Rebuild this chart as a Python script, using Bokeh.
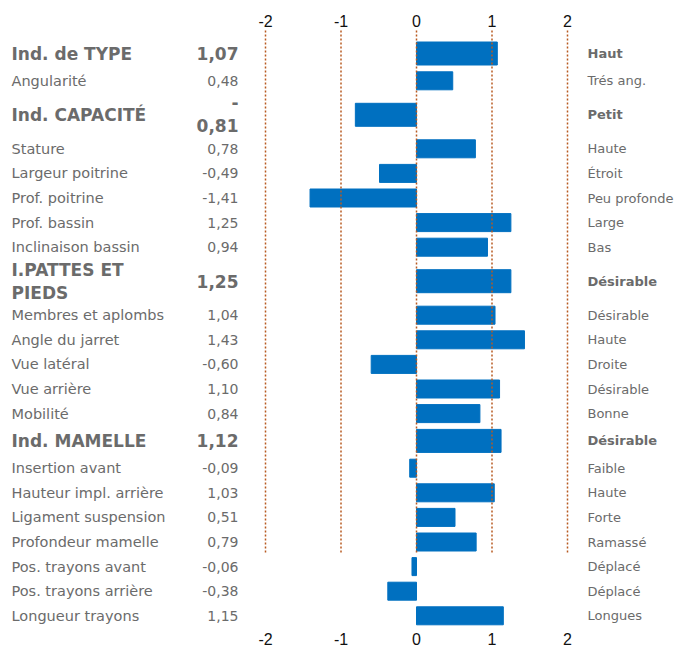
import textwrap
from bokeh.plotting import figure
from bokeh.models import Range1d, ColumnDataSource
from bokeh.core.properties import value
from bokeh.embed import file_html
from bokeh.resources import INLINE

# ---- data ----
labels = ["Ind. de TYPE", "Angularité", "Ind. CAPACITÉ", "Stature", "Largeur poitrine",
          "Prof. poitrine", "Prof. bassin", "Inclinaison bassin", "I.PATTES ET PIEDS",
          "Membres et aplombs", "Angle du jarret", "Vue latéral", "Vue arrière", "Mobilité",
          "Ind. MAMELLE", "Insertion avant", "Hauteur impl. arrière", "Ligament suspension",
          "Profondeur mamelle", "Pos. trayons avant", "Pos. trayons arrière", "Longueur trayons"]
values = [1.07, 0.48, -0.81, 0.78, -0.49, -1.41, 1.25, 0.94, 1.25, 1.04, 1.43, -0.60,
          1.10, 0.84, 1.12, -0.09, 1.03, 0.51, 0.79, -0.06, -0.38, 1.15]
right_labels = ["Haut", "Trés ang.", "Petit", "Haute", "Étroit", "Peu profonde", "Large", "Bas",
                "Désirable", "Désirable", "Haute", "Droite", "Désirable", "Bonne", "Désirable",
                "Faible", "Haute", "Forte", "Ramassé", "Déplacé", "Déplacé", "Longues"]
is_header = [True, False, True, False, False, False, False, False, True, False, False, False,
             False, False, True, False, False, False, False, False, False, False]
ticks = [-2, -1, 0, 1, 2]
tick_labels = ["-2", "-1", "0", "1", "2"]

# ---- layout helpers ----
W, H = 674, 650
PX_PER_UNIT = 75.5
ZERO_PX = 416
x0 = -ZERO_PX / PX_PER_UNIT
x1 = x0 + W / PX_PER_UNIT


def px2x(px):
    return x0 + px / PX_PER_UNIT


def fmt(v):
    return f"{v:.2f}".replace(".", ",")


lab_txt, val_txt, ys, bar_h = [], [], [], []
y = 38.0
for lab, v, hdr in zip(labels, values, is_header):
    if hdr:
        lt = "\n".join(textwrap.wrap(lab, 14))
        vt = ("-\n" + fmt(abs(v))) if v < 0 else fmt(v)
        two = ("\n" in lt) or ("\n" in vt)
        h = 43.4 if two else 30.0
        bh = 23
    else:
        lt, vt, h, bh = lab, fmt(v), 24.6, 18
    ys.append(y + h / 2)
    bar_h.append(bh)
    lab_txt.append(lt)
    val_txt.append(vt)
    y += h

p = figure(width=W, height=H, output_backend="svg", toolbar_location=None,
           x_range=Range1d(x0, x1), y_range=Range1d(H, 0),
           min_border=0, outline_line_color=None)
p.axis.visible = False
p.grid.visible = False

src = ColumnDataSource(dict(y=ys, v=values, h=bar_h, lab=lab_txt, val=val_txt,
                            rlab=right_labels, hdr=is_header))

p.hbar(y="y", left=0, right="v", height="h", source=src, color="#0070C0")

# grid lines (drawn over bars)
p.segment(x0=ticks, x1=ticks, y0=[30] * len(ticks), y1=[553] * len(ticks),
          line_color="#B85A20", line_dash="2 2", line_width=1.5)

# tick labels top and bottom
for ty in (20, 638):
    p.text(x=ticks, y=[ty] * len(ticks), text=tick_labels, text_align="center",
           text_baseline="middle", text_font=value("Liberation Sans"),
           text_font_size="16px", text_color="#111111")

hdr_idx = [i for i, h in enumerate(is_header) if h]
nrm_idx = [i for i, h in enumerate(is_header) if not h]


def sub(idx, key):
    d = src.data[key]
    return [d[i] for i in idx]


for idx, bold in ((nrm_idx, False), (hdr_idx, True)):
    yy = sub(idx, "y")
    style = "bold" if bold else "normal"
    p.text(x=[px2x(11)] * len(idx), y=yy, text=sub(idx, "lab"), text_align="left",
           text_baseline="middle", text_font=value("DejaVu Sans"), text_font_style=style,
           text_font_size="17px" if bold else "14.5px", text_color="#6b6b6b",
           text_line_height=1.15)
    p.text(x=[px2x(238)] * len(idx), y=yy, text=sub(idx, "val"), text_align="right",
           text_baseline="middle", text_font=value("DejaVu Sans"), text_font_style=style,
           text_font_size="17px" if bold else "14px", text_color="#6b6b6b",
           text_line_height=1.15)
    p.text(x=[px2x(587)] * len(idx), y=yy, text=sub(idx, "rlab"), text_align="left",
           text_baseline="middle", text_font=value("DejaVu Sans"), text_font_style=style,
           text_font_size="13px", text_color="#6b6b6b")

open("out.html", "w").write(file_html(p, INLINE))
